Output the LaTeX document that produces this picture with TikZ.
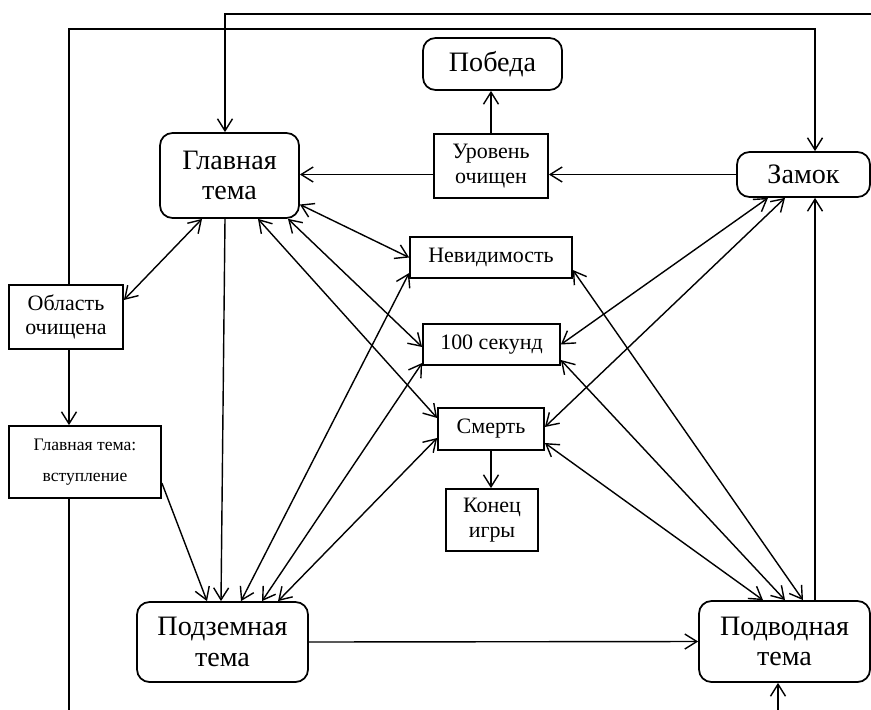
\documentclass[tikz,border=0pt]{standalone}
\usepackage{fontspec}
\setmainfont{Liberation Serif}
\usepackage{tikz}
\usetikzlibrary{arrows.meta,calc,positioning}
\newcommand\themefont{\fontsize{16}{17.5}\selectfont}
\newcommand\eventfont{\fontsize{12.5}{14}\selectfont}
\newcommand\notefont{\fontsize{10}{18}\selectfont}

\begin{document}
\begin{tikzpicture}[>={Straight Barb[length=2.4mm,width=3mm]},line width=0.8pt,
  theme/.style={draw,line width=1pt,rounded corners=0.25cm,align=center,inner sep=0pt,font=\themefont},
  event/.style={draw,line width=1pt,align=center,inner sep=0pt,font=\eventfont}]
  \useasboundingbox (0,0) rectangle (17.42,-14.18);
  \node[theme,minimum width=2.78cm,minimum height=1.70cm] (glav) at (4.59,-3.51) {Главная\\тема};
  \node[theme,minimum width=2.66cm,minimum height=0.90cm] (zam) at (16.07,-3.49) {Замок};
  \node[theme,minimum width=2.78cm,minimum height=1.04cm] (pob) at (9.85,-1.28) {Победа};
  \node[event,minimum width=2.28cm,minimum height=1.28cm] (urov) at (9.82,-3.32) {Уровень\\очищен};
  \node[event,minimum width=3.24cm,minimum height=0.82cm] (nev) at (9.82,-5.15) {Невидимость};
  \node[event,minimum width=2.74cm,minimum height=0.82cm] (sek) at (9.83,-6.89) {100 секунд};
  \node[event,minimum width=2.12cm,minimum height=0.84cm] (smrt) at (9.82,-8.58) {Смерть};
  \node[event,minimum width=1.84cm,minimum height=1.24cm] (kon) at (9.84,-10.40) {Конец\\игры};
  \node[event,minimum width=2.28cm,minimum height=1.28cm] (obl) at (1.32,-6.34) {Область\\очищена};
  \node[event,font=\notefont,minimum width=3.04cm,minimum height=1.44cm] (vst) at (1.70,-9.24) {Главная тема:\\вступление};
  \node[theme,minimum width=3.42cm,minimum height=1.60cm] (podz) at (4.45,-12.84) {Подземная\\тема};
  \node[theme,minimum width=3.42cm,minimum height=1.62cm] (podv) at (15.69,-12.83) {Подводная\\тема};

  \coordinate (railA) at (0,-0.28);
  \coordinate (railB) at (0,-0.58);
  \coordinate (railC) at (0,-14.8);
  \coordinate (exitR) at (18.0,-0.28);
  \coordinate (glavIn) at ([xshift=-0.09cm]glav.north);
  \coordinate (zamIn) at ([xshift=0.23cm]zam.north);
  \coordinate (oblUp) at ([xshift=0.06cm]obl.north);
  \coordinate (vstDown) at ([xshift=-0.32cm]vst.south);
  \coordinate (podvIn) at ([xshift=-0.13cm]podv.south);

  \draw[->] (exitR) -| (glavIn);
  \draw[->] (oblUp) |- (railB -| zamIn) -- (zamIn);
  \draw[->] (vstDown) |- (railC -| podvIn) -- (podvIn);

  \draw[->] (zam.west) -- (zam.west -| urov.east);
  \draw[->] (urov.west |- zam.west) -- (glav.east |- zam.west);
  \draw[->] (urov.north) -- (urov.north |- pob.south);
  \draw[->] (smrt.south) -- (smrt.south |- kon.north);
  \draw[->] ([xshift=0.06cm]obl.south) -- ([xshift=0.06cm]obl.south |- vst.north);

  \draw[<->] ([xshift=-0.55cm]glav.south) -- ([yshift=0.34cm]obl.east);
  \draw[->] ([xshift=-0.09cm]glav.south) -- ([xshift=-0.03cm]podz.north);
  \draw[<->] ([xshift=0.57cm]glav.south) -- ([yshift=0.22cm]smrt.west);
  \draw[<->] ([xshift=1.17cm]glav.south) -- ([yshift=-0.05cm]sek.west);
  \draw[<->] ([yshift=-0.58cm]glav.east) -- (nev.west);

  \draw[<->] ([xshift=-0.71cm]zam.south) -- (sek.east);
  \draw[<->] ([xshift=-0.37cm]zam.south) -- ([yshift=0.04cm]smrt.east);
  \draw[->] ([xshift=0.61cm]podv.north) -- ([xshift=0.61cm]podv.north |- zam.south);

  \draw[->] (podz.east) -- (podv.west);
  \draw[<->] ([yshift=-0.25cm]nev.east) -- ([xshift=0.37cm]podv.north);
  \draw[<->] ([yshift=-0.31cm]sek.east) -- ([xshift=0.01cm]podv.north);
  \draw[<->] ([yshift=-0.28cm]smrt.east) -- ([xshift=-0.43cm]podv.north);

  \draw[->] ([yshift=-0.42cm]vst.east) -- ([xshift=-0.31cm]podz.north);
  \draw[<->] ([yshift=-0.31cm]nev.west) -- ([xshift=0.37cm]podz.north);
  \draw[<->] ([yshift=-0.37cm]sek.west) -- ([xshift=0.79cm]podz.north);
  \draw[<->] ([yshift=-0.18cm]smrt.west) -- ([xshift=1.11cm]podz.north);
\end{tikzpicture}
\end{document}
